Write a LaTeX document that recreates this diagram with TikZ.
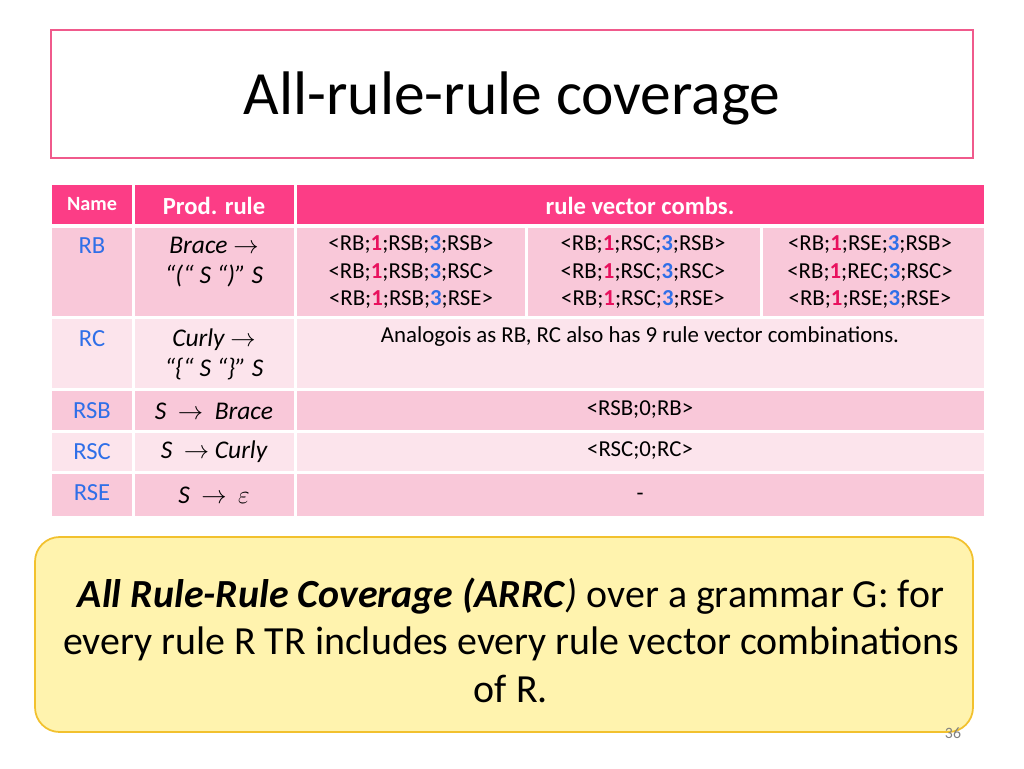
\documentclass[tikz,border=0pt]{standalone}
\usepackage{fontspec}
\setmainfont{Carlito}
\usepackage{amsmath}
\definecolor{hdrpink}{HTML}{FC3D86}
\definecolor{rowdark}{HTML}{F9C8D9}
\definecolor{rowlight}{HTML}{FCE4EC}
\definecolor{namblue}{HTML}{2F6FE8}
\definecolor{onered}{HTML}{E8115E}
\definecolor{titleborder}{HTML}{F05A8C}
\definecolor{notefill}{HTML}{FFF3AE}
\definecolor{noteborder}{HTML}{F2C12E}
\newcommand{\vc}[2]{<RB;\textcolor{onered}{\textbf{1}};#1;\textcolor{namblue}{\textbf{3}};#2>}
\tikzset{
  cell/.style={inner sep=0pt, align=center, font=\fontsize{13}{16}\selectfont},
  combcell/.style={cell, font=\fontsize{13}{15.4}\selectfont},
  namecell/.style={cell, text=namblue, font=\fontsize{14}{16}\selectfont},
  prodcell/.style={cell, font=\fontsize{14.5}{17}\selectfont\itshape},
  hdr/.style={cell, text=white, font=\fontsize{14}{16}\selectfont\bfseries},
}
\begin{document}
\begin{tikzpicture}[x=0.02cm, y=-0.02cm]
 \useasboundingbox (0,0) rectangle (1024,768);
 % title
 \draw[titleborder, line width=0.8pt] (51,30) rectangle (973,158);
 \node[font=\fontsize{35}{40}\selectfont] (title) at (512,98) {All-rule-rule coverage};
 % header
 \fill[hdrpink] (52,185) rectangle (132,224);
 \fill[hdrpink] (135,185) rectangle (294,224);
 \fill[hdrpink] (297,185) rectangle (984,224);
 \node[hdr, font=\fontsize{11.5}{13}\selectfont\bfseries] (hname) at (92,204) {Name};
 \node[hdr] (hprod) at (214,206) {Prod. rule};
 \node[hdr] (hcomb) at (640,206) {rule vector combs.};
 % row backgrounds
 \foreach \ya/\yb/\col in {228/316/rowdark, 319/388/rowlight, 391/430/rowdark, 433/471/rowlight, 474/516/rowdark}{
  \fill[\col] (52,\ya) rectangle (132,\yb);
  \fill[\col] (135,\ya) rectangle (294,\yb);
 }
 \fill[rowdark] (297,228) rectangle (525,316);
 \fill[rowdark] (528,228) rectangle (760,316);
 \fill[rowdark] (763,228) rectangle (984,316);
 \fill[rowlight] (297,319) rectangle (984,388);
 \fill[rowdark] (297,391) rectangle (984,430);
 \fill[rowlight] (297,433) rectangle (984,471);
 \fill[rowdark] (297,474) rectangle (984,516);
 % names
 \node[namecell] (nrb) at (92,246) {RB};
 \node[namecell] (nrc) at (92,339) {RC};
 \node[namecell] (nrsb) at (92,411) {RSB};
 \node[namecell] (nrsc) at (92,452) {RSC};
 \node[namecell] (nrse) at (92,493) {RSE};
 % productions
 \node[prodcell] (prb) at (214,262) {Brace $\rightarrow$\\ ``(`` S ``)'' S};
 \node[prodcell] (prc) at (214,354) {Curly $\rightarrow$\\ ``\{`` S ``\}'' S};
 \node[prodcell] (prsb) at (214,411) {S \ $\rightarrow$ \ Brace};
 \node[prodcell] (prsc) at (214,452) {S \ $\rightarrow$ Curly};
 \node[prodcell] (prse) at (214,495) {S \ $\rightarrow$ \ $\varepsilon$};
 % combinations
 \node[combcell] (cb) at (411,272) {\vc{RSB}{RSB}\\ \vc{RSB}{RSC}\\ \vc{RSB}{RSE}};
 \node[combcell] (cc) at (643,272) {\vc{RSC}{RSB}\\ \vc{RSC}{RSC}\\ \vc{RSC}{RSE}};
 \node[combcell] (ce) at (870,272) {\vc{RSE}{RSB}\\ \vc{REC}{RSC}\\ \vc{RSE}{RSE}};
 \node[cell] (crc) at (640,337) {Analogois as RB, RC also has 9 rule vector combinations.};
 \node[cell] (crsb) at (640,410) {<RSB;0;RB>};
 \node[cell] (crsc) at (640,451) {<RSC;0;RC>};
 \node[cell] (crse) at (640,497) {-};
 % definition box
 \draw[noteborder, fill=notefill, line width=1pt, rounded corners=14] (35,537) rectangle (973,732);
 \node[align=center, font=\fontsize{22.7}{27}\selectfont] (note) at (511,640)
  {\textbf{\textit{All Rule-Rule Coverage (ARRC}}\textit{)} over a grammar G: for\\
   every rule R TR includes every rule vector combinations\\ of R.};
 \node[text=gray, font=\fontsize{9}{10}\selectfont] (pg) at (953,733) {36};
\end{tikzpicture}
\end{document}
